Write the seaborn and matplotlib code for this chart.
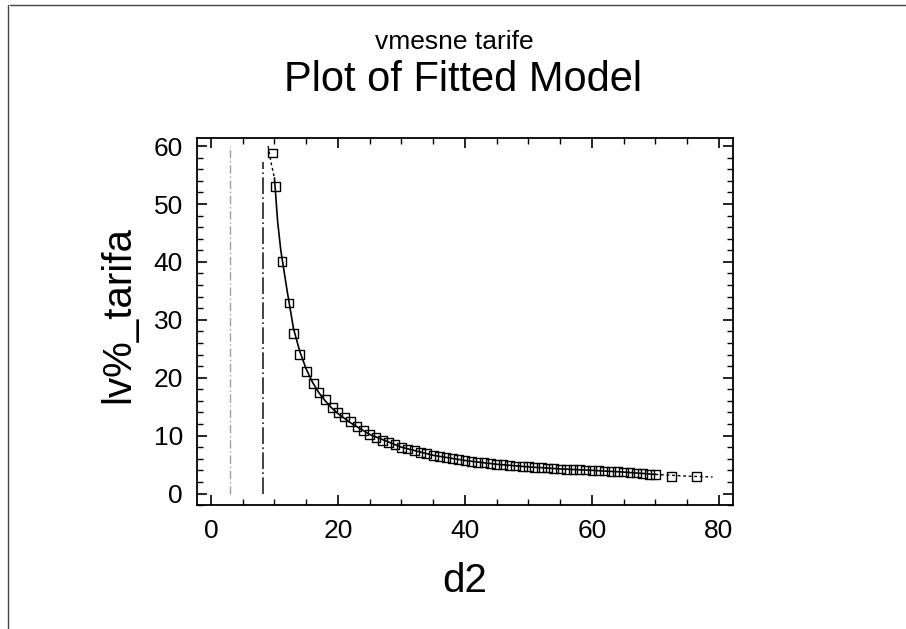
import matplotlib
matplotlib.use("Agg")
import matplotlib.pyplot as plt
from matplotlib.lines import Line2D
from matplotlib.ticker import MultipleLocator
import seaborn as sns
import pandas as pd

# observed data points (d2, lv%_tarifa)
obs_x = [9.7, 10.2, 11.2, 12.3, 13.0, 14.0, 15.1, 16.1, 17.0, 18.1, 19.1,
         20, 21, 22, 23, 24, 25, 26, 27, 28, 29, 30, 31, 32, 33, 34, 35,
         36, 37, 38, 39, 40, 41, 42, 43, 44, 45, 46, 47, 48, 49, 50, 51,
         52, 53, 54, 55, 56, 57, 58, 59, 60, 61, 62, 63, 64, 65, 66, 67,
         68, 69, 70, 72.5, 76.4]
obs_y = [58.8, 53.0, 40.1, 32.9, 27.7, 24.0, 21.1, 19.0, 17.5, 16.3, 14.9,
         14.0, 13.2, 12.4, 11.6, 10.9, 10.2, 9.7, 9.2, 8.8, 8.4, 8.0, 7.7,
         7.4, 7.1, 6.9, 6.6, 6.4, 6.2, 6.0, 5.85, 5.7, 5.55, 5.4, 5.3, 5.2,
         5.05, 4.95, 4.85, 4.75, 4.7, 4.6, 4.5, 4.45, 4.4, 4.3, 4.25, 4.2,
         4.15, 4.1, 4.05, 4.0, 3.95, 3.9, 3.8, 3.75, 3.7, 3.6, 3.55, 3.45,
         3.35, 3.3, 3.0, 2.9]

# fitted model line (inside data range)
fit_x = [10.0, 10.5, 11, 12, 13, 14, 15, 16, 17, 18, 19, 20, 22, 25, 30,
         35, 40, 45, 50, 55, 60, 65, 70]
fit_y = [54.5, 47.0, 42.0, 35.0, 28.5, 24.5, 21.5, 19.2, 17.4, 16.0, 14.8,
         13.8, 12.2, 10.2, 8.0, 6.6, 5.7, 5.05, 4.6, 4.25, 4.0, 3.7, 3.3]
# extrapolated parts (dotted)
ext_lo_x = [9.0, 9.5, 10.0]
ext_lo_y = [60.0, 57.0, 54.5]
ext_hi_x = [70, 75, 79]
ext_hi_y = [3.3, 3.0, 2.85]

# limit lines (vertical asymptotes of the bands)
lim1_x = [3.0, 3.0]
lim1_y = [0.0, 60.0]
lim2_x = [8.2, 8.2]
lim2_y = [0.0, 57.3]

x_ticks = [0, 20, 40, 60, 80]
y_ticks = [0, 10, 20, 30, 40, 50, 60]

sns.set_theme(style="ticks")
plt.rcParams['font.family'] = ['Liberation Sans', 'DejaVu Sans']
plt.rcParams['text.color'] = 'black'
plt.rcParams['axes.labelcolor'] = 'black'
plt.rcParams['xtick.color'] = 'black'
plt.rcParams['ytick.color'] = 'black'

fig = plt.figure(figsize=(9.06, 6.29), dpi=100)
ax = fig.add_axes([0.2174, 0.197, 0.809 - 0.2174, 0.7806 - 0.197])

df_obs = pd.DataFrame({"d2": obs_x, "lv": obs_y})
df_fit = pd.DataFrame({"d2": fit_x, "lv": fit_y})

ax.plot(lim1_x, lim1_y, color="#a0a0a0", lw=1.0, ls=(0, (6, 2, 1, 2)))
ax.plot(lim2_x, lim2_y, color="#222222", lw=1.2, ls=(0, (10, 2, 1, 2)))
ax.plot(ext_lo_x, ext_lo_y, color="black", lw=1.0, ls=(0, (2, 2)))
ax.plot(ext_hi_x, ext_hi_y, color="black", lw=1.0, ls=(0, (2, 2)))
sns.lineplot(data=df_fit, x="d2", y="lv", ax=ax, color="black", lw=1.2,
             estimator=None, sort=True)
sns.scatterplot(data=df_obs, x="d2", y="lv", ax=ax, marker="s", s=40,
                facecolor="none", edgecolor="black", linewidth=1.0)

ax.set_xlim(-2.2, 82.2)
ax.set_ylim(-2.0, 61.4)
ax.set_xticks(x_ticks)
ax.set_yticks(y_ticks)
ax.xaxis.set_minor_locator(MultipleLocator(5))
ax.yaxis.set_minor_locator(MultipleLocator(2))
ax.tick_params(which="both", direction="in", top=True, right=True,
               labelsize=19, color="black", labelcolor="black")
ax.tick_params(which="major", length=7, width=1.2, pad=10)
ax.tick_params(which="minor", length=4, width=1.0)
for sp in ax.spines.values():
    sp.set_color("black")
    sp.set_linewidth(1.3)

ax.set_xlabel("d2", fontsize=29, labelpad=14, color="black")
ax.set_ylabel("lv%_tarifa", fontsize=29, labelpad=12, color="black")
ax.yaxis.label.set_y(0.52)

fig.text(0.502, 1 - 42 / 629, "vmesne tarife", fontsize=19,
         ha="center", va="center", color="black")
fig.text(0.511, 1 - 80 / 629, "Plot of Fitted Model", fontsize=30,
         ha="center", va="center", color="black")

# page frame lines
fig.add_artist(Line2D([10 / 906, 1.0], [1 - 5 / 629, 1 - 5 / 629],
                      transform=fig.transFigure, color="#444444", lw=1.0))
fig.add_artist(Line2D([8 / 906, 8 / 906], [1 - 5 / 629, 0.0],
                      transform=fig.transFigure, color="#444444", lw=1.0))

fig.savefig("out.png", dpi=100)
